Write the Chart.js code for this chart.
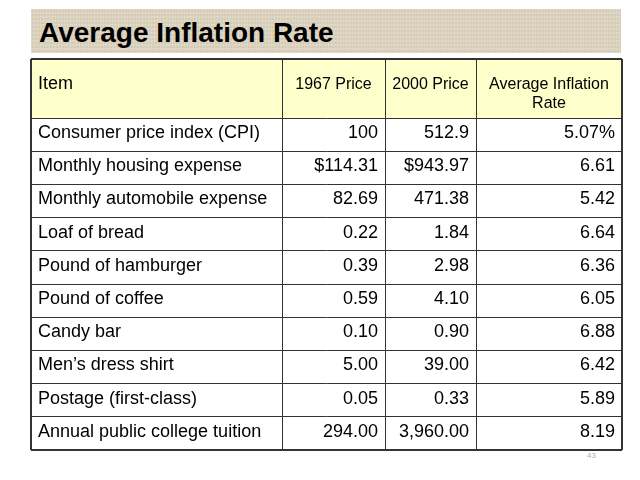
<!DOCTYPE html>
<html>
<head>
<meta charset="utf-8">
<title>Average Inflation Rate</title>
<script src="https://cdn.jsdelivr.net/npm/chart.js@4"></script>
<style>
  body { margin: 0; background: #fff; }
  #wrap { position: relative; width: 640px; height: 480px; overflow: hidden; }
  #titleBar {
    position: absolute; left: 31px; top: 9px; width: 590px; height: 44px;
    background-color: #ddd4bf;
    background-image:
      repeating-linear-gradient(0deg, rgba(255,255,255,0.10) 0 1px, rgba(0,0,0,0.02) 1px 3px, rgba(255,255,255,0.06) 3px 4px),
      repeating-linear-gradient(90deg, rgba(255,255,255,0.08) 0 1px, rgba(0,0,0,0.02) 1px 3px);
  }
  #title {
    position: absolute; left: 39px; top: 19px; margin: 0;
    font: bold 28px/1 Arial, "Liberation Sans", sans-serif; color: #000; white-space: nowrap;
  }
  #pageNum {
    position: absolute; left: 587px; top: 452px;
    font: 8px/1 Arial, "Liberation Sans", sans-serif; color: #aaa;
  }
  canvas { position: absolute; left: 0; top: 0; }
</style>
</head>
<body>
<div id="wrap">
  <div id="titleBar"></div>
  <h1 id="title">Average Inflation Rate</h1>
  <canvas id="tabla" width="640" height="480"></canvas>
  <div id="pageNum">43</div>
</div>
<script>
const headers = ["Item", "1967 Price", "2000 Price", "Average Inflation Rate"];
const items = [
  "Consumer price index (CPI)",
  "Monthly housing expense",
  "Monthly automobile expense",
  "Loaf of bread",
  "Pound of hamburger",
  "Pound of coffee",
  "Candy bar",
  "Men’s dress shirt",
  "Postage (first-class)",
  "Annual public college tuition"
];
const price1967 = ["100", "$114.31", "82.69", "0.22", "0.39", "0.59", "0.10", "5.00", "0.05", "294.00"];
const price2000 = ["512.9", "$943.97", "471.38", "1.84", "2.98", "4.10", "0.90", "39.00", "0.33", "3,960.00"];
const inflationRate = ["5.07%", "6.61", "5.42", "6.64", "6.36", "6.05", "6.88", "6.42", "5.89", "8.19"];

// layout (pixel widths of the columns, header height in rows)
const colWidths = [251, 103, 91, 146];
const headerRows = 1.78;
const FONT = 'Arial, "Liberation Sans", sans-serif';

const colEdges = colWidths.reduce((acc, w) => { acc.push(acc[acc.length - 1] + w); return acc; }, [0]);
const tableWidth = colEdges[colEdges.length - 1];
const rowEdges = [-headerRows].concat(items.map((_, i) => i), [items.length]);

// parte un texto en lineas que quepan en el ancho
function partirTexto(ctx, texto, ancho) {
  const palabras = texto.split(" ");
  let lineas = [], actual = "";
  palabras.forEach(p => {
    const prueba = actual ? actual + " " + p : p;
    if (actual && ctx.measureText(prueba).width > ancho) {
      lineas.push(actual);
      actual = p;
    } else {
      actual = prueba;
    }
  });
  lineas.push(actual);
  return lineas;
}

const textoTabla = {
  id: "textoTabla",
  afterDraw(chart) {
    const { ctx, scales: { x, y } } = chart;
    ctx.save();
    ctx.fillStyle = "#000";
    ctx.textBaseline = "alphabetic";

    // encabezado
    const top = y.getPixelForValue(-headerRows);
    headers.forEach((h, c) => {
      const left = x.getPixelForValue(colEdges[c]);
      const right = x.getPixelForValue(colEdges[c + 1]);
      if (c === 0) {
        ctx.font = "18px " + FONT;
        ctx.textAlign = "left";
        ctx.fillText(h, left + 7, top + 30);
        return;
      }
      ctx.font = "16px " + FONT;
      ctx.textAlign = "center";
      partirTexto(ctx, h, right - left - 12).forEach((linea, k) => {
        ctx.fillText(linea, (left + right) / 2, top + 29.5 + k * 19);
      });
    });

    // filas
    const columnas = [items, price1967, price2000, inflationRate];
    ctx.font = "18px " + FONT;
    items.forEach((_, r) => {
      const base = y.getPixelForValue(r) + 20;
      columnas.forEach((col, c) => {
        if (c === 0) {
          ctx.textAlign = "left";
          ctx.fillText(col[r], x.getPixelForValue(colEdges[c]) + 7, base);
        } else {
          ctx.textAlign = "right";
          ctx.fillText(col[r], x.getPixelForValue(colEdges[c + 1]) - 7, base);
        }
      });
    });
    ctx.restore();
  }
};

function anchoLinea(n) {
  return ctx => (ctx.index === 0 || ctx.index === n - 1) ? 2 : 1;
}

new Chart(document.getElementById("tabla").getContext("2d"), {
  type: "scatter",
  data: {
    datasets: [
      {
        // fondo amarillo del encabezado
        data: [{ x: 0, y: -headerRows }, { x: tableWidth, y: -headerRows }],
        showLine: true,
        borderWidth: 0,
        pointRadius: 0,
        backgroundColor: "#ffffcc",
        fill: { value: 0 }
      }
    ]
  },
  options: {
    responsive: false,
    animation: false,
    events: [],
    layout: { padding: { left: 31, top: 59, right: 18, bottom: 30 } },
    plugins: { legend: { display: false }, tooltip: { enabled: false } },
    scales: {
      x: {
        type: "linear",
        min: 0,
        max: tableWidth,
        border: { display: false },
        ticks: { display: false },
        grid: { z: 1, drawTicks: false, color: "#333", lineWidth: anchoLinea(colEdges.length) },
        afterBuildTicks: s => { s.ticks = colEdges.map(v => ({ value: v })); }
      },
      y: {
        type: "linear",
        reverse: true,
        min: -headerRows,
        max: items.length,
        border: { display: false },
        ticks: { display: false },
        grid: { z: 1, drawTicks: false, color: "#333", lineWidth: anchoLinea(rowEdges.length) },
        afterBuildTicks: s => { s.ticks = rowEdges.map(v => ({ value: v })); }
      }
    }
  },
  plugins: [textoTabla]
});
</script>
</body>
</html>
